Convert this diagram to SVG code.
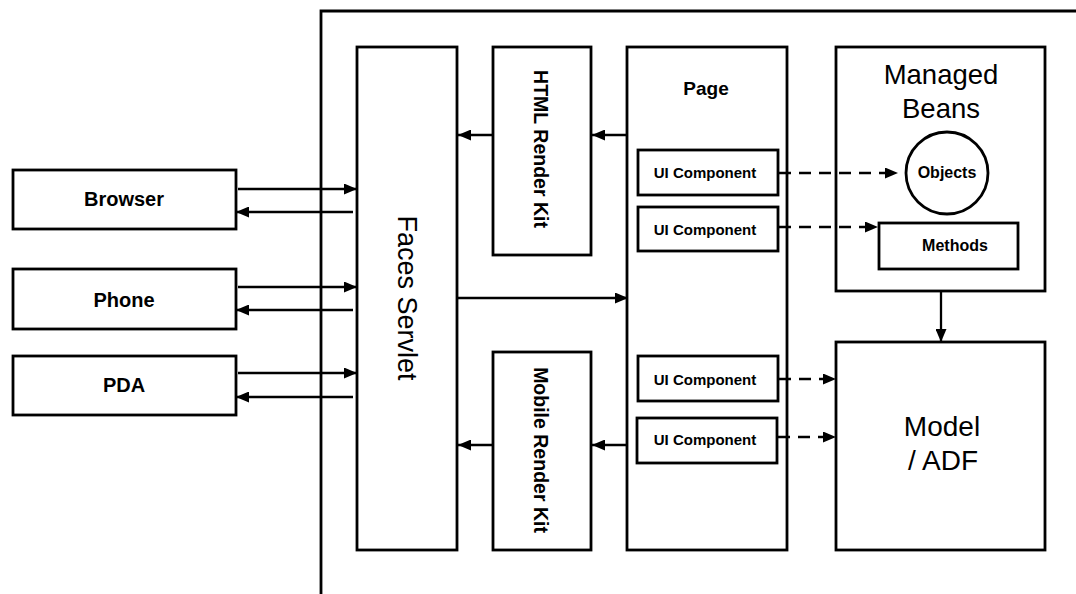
<svg xmlns="http://www.w3.org/2000/svg" width="1076" height="594" viewBox="0 0 1076 594">
<style>
.box{fill:#fff;stroke:#000;stroke-width:2.8}
.ln{fill:none;stroke:#000;stroke-width:2.3}
.dash{fill:none;stroke:#000;stroke-width:2.5;stroke-dasharray:12 8}
.t{font-family:"Liberation Sans",Arial,sans-serif;fill:#000;text-anchor:middle}
.b{font-weight:bold}
</style>
<defs>
<marker id="ah" markerWidth="13" markerHeight="11" refX="13" refY="5.5" orient="auto" markerUnits="userSpaceOnUse">
<path d="M0,0 L13,5.5 L0,11 z" fill="#000"/>
</marker>
</defs>
<rect width="1076" height="594" fill="#fff"/>
<path d="M321,594 V11 H1076" fill="none" stroke="#000" stroke-width="2.8"/>

<g id="browser"><rect class="box" x="13" y="170" width="223" height="59"/><text class="t b" x="124" y="206" font-size="20">Browser</text></g>
<g id="phone"><rect class="box" x="13" y="269" width="223" height="60"/><text class="t b" x="124" y="307" font-size="20">Phone</text></g>
<g id="pda"><rect class="box" x="13" y="356" width="223" height="59"/><text class="t b" x="124" y="392" font-size="20">PDA</text></g>

<g id="faces-servlet"><rect class="box" x="357" y="47" width="100" height="503"/><text class="t" transform="translate(407,298) rotate(90)" x="0" y="9.5" font-size="27">Faces Servlet</text></g>
<g id="html-render-kit"><rect class="box" x="493" y="47" width="98" height="208"/><text class="t b" transform="translate(541,149) rotate(90)" x="0" y="7" font-size="19.5">HTML Render Kit</text></g>
<g id="mobile-render-kit"><rect class="box" x="493" y="352" width="98" height="198"/><text class="t b" transform="translate(541,450) rotate(90)" x="0" y="7" font-size="19.5">Mobile Render Kit</text></g>

<g id="page"><rect class="box" x="627" y="47" width="160" height="503"/><text class="t b" x="706" y="95" font-size="19">Page</text></g>
<g id="ui1"><rect class="box" x="638" y="150" width="140" height="45"/><text class="t b" x="705" y="178" font-size="15">UI Component</text></g>
<g id="ui2"><rect class="box" x="638" y="207" width="140" height="44"/><text class="t b" x="705" y="235" font-size="15">UI Component</text></g>
<g id="ui3"><rect class="box" x="638" y="356" width="140" height="45"/><text class="t b" x="705" y="385" font-size="15">UI Component</text></g>
<g id="ui4"><rect class="box" x="637" y="418" width="140" height="45"/><text class="t b" x="705" y="445" font-size="15">UI Component</text></g>

<g id="managed-beans"><rect class="box" x="836" y="47" width="209" height="244"/><text class="t" x="941" y="84" font-size="27.5">Managed</text><text class="t" x="941" y="118" font-size="27.5">Beans</text></g>
<g id="objects"><circle class="box" cx="947" cy="173" r="41"/><text class="t b" x="947" y="178" font-size="16">Objects</text></g>
<g id="methods"><rect class="box" x="879" y="223" width="139" height="46"/><text class="t b" x="955" y="251" font-size="16">Methods</text></g>
<g id="model-adf"><rect class="box" x="836" y="342" width="209" height="208"/><text class="t" x="942" y="436" font-size="28">Model</text><text class="t" x="943" y="470" font-size="28">/ ADF</text></g>

<g id="connectors">
<line class="ln" x1="238" y1="189" x2="357" y2="189" marker-end="url(#ah)"/>
<line class="ln" x1="353" y1="212" x2="236" y2="212" marker-end="url(#ah)"/>
<line class="ln" x1="238" y1="287" x2="357" y2="287" marker-end="url(#ah)"/>
<line class="ln" x1="353" y1="310" x2="236" y2="310" marker-end="url(#ah)"/>
<line class="ln" x1="238" y1="373" x2="357" y2="373" marker-end="url(#ah)"/>
<line class="ln" x1="353" y1="397" x2="236" y2="397" marker-end="url(#ah)"/>
<line class="ln" x1="627" y1="135" x2="592" y2="135" marker-end="url(#ah)"/>
<line class="ln" x1="493" y1="135" x2="458" y2="135" marker-end="url(#ah)"/>
<line class="ln" x1="627" y1="445" x2="592" y2="445" marker-end="url(#ah)"/>
<line class="ln" x1="493" y1="445" x2="458" y2="445" marker-end="url(#ah)"/>
<line class="ln" x1="458" y1="298" x2="628" y2="298" marker-end="url(#ah)"/>
<line class="dash" x1="779" y1="173" x2="898" y2="173" marker-end="url(#ah)"/>
<line class="dash" x1="779" y1="227" x2="878" y2="227" marker-end="url(#ah)"/>
<line class="dash" x1="779" y1="379" x2="836" y2="379" marker-end="url(#ah)"/>
<line class="dash" x1="778" y1="437" x2="836" y2="437" marker-end="url(#ah)"/>
<line class="ln" x1="941" y1="292" x2="941" y2="342" marker-end="url(#ah)"/>
</g>
</svg>
